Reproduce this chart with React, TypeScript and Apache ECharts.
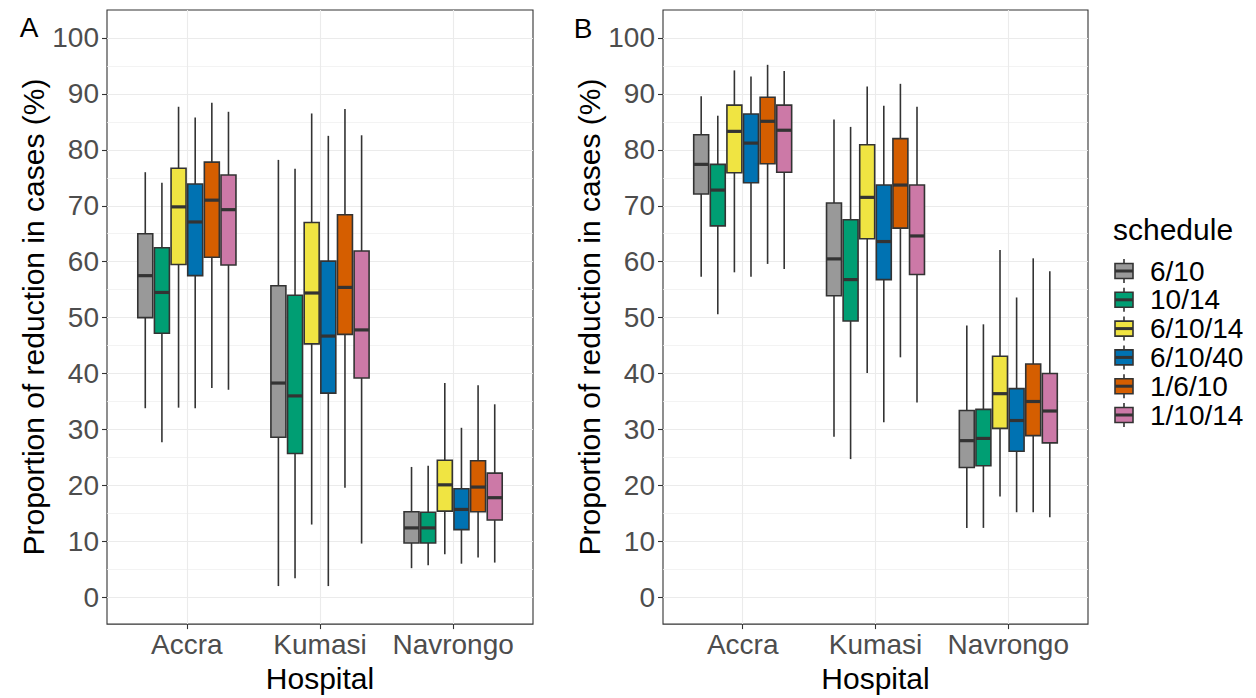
import React, { useEffect, useRef } from "react";
import * as echarts from "echarts";

// Categories
const hospitals = ["Accra", "Kumasi", "Navrongo"];
const schedules = ["6/10", "10/14", "6/10/14", "6/10/40", "1/6/10", "1/10/14"];
const colors = ["#999999", "#009E73", "#F0E442", "#0072B2", "#D55E00", "#CC79A7"];
const yTicks = [0, 10, 20, 30, 40, 50, 60, 70, 80, 90, 100];
const yMinor = [5, 15, 25, 35, 45, 55, 65, 75, 85, 95];

// Panel A: per schedule, per hospital [lowWhisker, Q1, median, Q3, highWhisker]
const a_6_10 = [[33.8, 50.0, 57.5, 65.0, 76.0], [2.0, 28.6, 38.3, 55.7, 78.2], [5.2, 9.7, 12.4, 15.3, 23.3]];
const a_10_14 = [[27.7, 47.2, 54.5, 62.5, 74.1], [3.4, 25.7, 36.0, 54.0, 76.6], [5.7, 9.7, 12.4, 15.2, 23.5]];
const a_6_10_14 = [[33.9, 59.5, 69.8, 76.7, 87.7], [13.0, 45.3, 54.4, 67.0, 86.5], [7.7, 15.4, 20.1, 24.5, 38.3]];
const a_6_10_40 = [[33.8, 57.5, 67.1, 73.9, 85.8], [2.0, 36.5, 46.7, 60.1, 82.5], [6.0, 12.1, 15.7, 19.4, 30.3]];
const a_1_6_10 = [[37.4, 60.8, 71.0, 77.8, 88.4], [19.6, 47.0, 55.4, 68.4, 87.3], [7.1, 15.3, 19.7, 24.4, 37.9]];
const a_1_10_14 = [[37.1, 59.4, 69.3, 75.5, 86.8], [9.6, 39.2, 47.8, 61.9, 82.6], [6.2, 13.8, 17.8, 22.2, 34.5]];

// Panel B
const b_6_10 = [[57.3, 72.1, 77.4, 82.7, 89.6], [28.7, 53.9, 60.5, 70.5, 85.4], [12.4, 23.2, 28.0, 33.4, 48.6]];
const b_10_14 = [[50.6, 66.4, 72.8, 77.4, 86.1], [24.7, 49.4, 56.8, 67.5, 84.1], [12.4, 23.5, 28.4, 33.6, 48.8]];
const b_6_10_14 = [[58.1, 75.9, 83.3, 88.0, 94.2], [40.1, 64.1, 71.5, 80.9, 91.3], [18.0, 30.2, 36.4, 43.1, 62.1]];
const b_6_10_40 = [[57.3, 74.1, 81.2, 86.4, 93.1], [31.3, 56.8, 63.6, 73.7, 87.9], [15.2, 26.1, 31.6, 37.3, 53.6]];
const b_1_6_10 = [[59.6, 77.5, 85.1, 89.4, 95.2], [42.9, 66.0, 73.7, 82.0, 91.8], [15.2, 28.9, 35.0, 41.7, 60.6]];
const b_1_10_14 = [[58.7, 76.0, 83.5, 88.0, 94.1], [34.8, 57.7, 64.6, 73.7, 87.7], [14.3, 27.6, 33.3, 40.0, 58.3]];

const panelA = [a_6_10, a_10_14, a_6_10_14, a_6_10_40, a_1_6_10, a_1_10_14];
const panelB = [b_6_10, b_10_14, b_6_10_14, b_6_10_40, b_1_6_10, b_1_10_14];

const FONT = "'Liberation Sans', Arial, Helvetica, sans-serif";
const DODGE = 0.75 / 6;
const BOX_W = DODGE * 0.9;
const LINE = "#333333";
const Y_MIN = -4.8;
const Y_MAX = 105;

function makeSeries(panel: number[][][], gi: number) {
  return panel.map((stats, j) => ({
    type: "custom",
    name: schedules[j],
    xAxisIndex: gi,
    yAxisIndex: gi * 2,
    z: 3,
    encode: { x: 0, y: [1, 2, 3, 4, 5] },
    data: stats.map((s, h) => [h + 1, ...s]),
    renderItem: (params: any, api: any) => {
      const xc = (api.value(0) as number) + (j - 2.5) * DODGE;
      const cx = api.coord([xc, api.value(3)])[0];
      const yLow = api.coord([xc, api.value(1)])[1];
      const yQ1 = api.coord([xc, api.value(2)])[1];
      const yMed = api.coord([xc, api.value(3)])[1];
      const yQ3 = api.coord([xc, api.value(4)])[1];
      const yHigh = api.coord([xc, api.value(5)])[1];
      const w = api.size([BOX_W, 0])[0];
      const ls = { stroke: LINE, lineWidth: 1.6 };
      return {
        type: "group",
        children: [
          { type: "line", shape: { x1: cx, y1: yHigh, x2: cx, y2: yQ3 }, style: ls },
          { type: "line", shape: { x1: cx, y1: yQ1, x2: cx, y2: yLow }, style: ls },
          {
            type: "rect",
            shape: { x: cx - w / 2, y: yQ3, width: w, height: yQ1 - yQ3 },
            style: { fill: colors[j], stroke: LINE, lineWidth: 1.6 },
          },
          { type: "line", shape: { x1: cx - w / 2, y1: yMed, x2: cx + w / 2, y2: yMed }, style: { stroke: LINE, lineWidth: 3.2 } },
        ],
      };
    },
  }));
}

function xAxisFor(gi: number) {
  return {
    type: "value",
    gridIndex: gi,
    min: 0.4,
    max: 3.6,
    position: "bottom",
    axisLine: { show: false, onZero: false },
    axisTick: { show: true, customValues: [1, 2, 3], length: 5, lineStyle: { color: LINE, width: 1.1 } },
    axisLabel: {
      customValues: [1, 2, 3],
      formatter: (v: number) => hospitals[Math.round(v) - 1],
      fontSize: 28,
      color: "#4D4D4D",
      margin: 6,
      fontFamily: FONT,
    },
    splitLine: { show: true, lineStyle: { color: "#EBEBEB", width: 1.1 } },
    name: "Hospital",
    nameLocation: "middle",
    nameGap: 35,
    nameTextStyle: { fontSize: 30, color: "#000", fontFamily: FONT },
  };
}

function yAxesFor(gi: number) {
  return [
    {
      type: "value",
      gridIndex: gi,
      min: Y_MIN,
      max: Y_MAX,
      position: "left",
      axisLine: { show: false, onZero: false },
      axisTick: { show: true, customValues: yTicks, length: 5, lineStyle: { color: LINE, width: 1.1 } },
      axisLabel: { customValues: yTicks, fontSize: 28, color: "#4D4D4D", margin: 8, fontFamily: FONT },
      splitLine: { show: true, lineStyle: { color: "#EBEBEB", width: 1.1 } },
      name: "Proportion of reduction in cases (%)",
      nameLocation: "middle",
      nameRotate: 90,
      nameGap: 59,
      nameTextStyle: { fontSize: 30, color: "#000", fontFamily: FONT },
      z: 1,
    },
    {
      type: "value",
      gridIndex: gi,
      min: Y_MIN,
      max: Y_MAX,
      position: "left",
      axisLine: { show: false, onZero: false },
      axisTick: { show: false, customValues: yMinor },
      axisLabel: { show: false, customValues: yMinor },
      splitLine: { show: true, lineStyle: { color: "#F0F0F0", width: 0.8 } },
      z: 0,
    },
  ];
}

export default function App() {
  const ref = useRef<HTMLDivElement>(null);
  useEffect(() => {
    if (!ref.current) return;
    const chart = echarts.init(ref.current, undefined, { renderer: "svg" });
    const legendTop = 271;
    const legendStep = 28.8;
    const legendGraphics: any[] = [
      { type: "text", left: 1113, top: 214, style: { text: "schedule", fontSize: 30, fill: "#000", fontFamily: FONT } },
    ];
    schedules.forEach((s, k) => {
      const cy = legendTop + k * legendStep;
      legendGraphics.push(
        { type: "line", shape: { x1: 1124, y1: cy - 12, x2: 1124, y2: cy + 12 }, style: { stroke: LINE, lineWidth: 1.6 } },
        { type: "rect", shape: { x: 1115, y: cy - 7.5, width: 18, height: 15 }, style: { fill: colors[k], stroke: LINE, lineWidth: 1.6 } },
        { type: "line", shape: { x1: 1115, y1: cy, x2: 1133, y2: cy }, style: { stroke: LINE, lineWidth: 3 } },
        { type: "text", x: 1150, y: cy, style: { text: s, fontSize: 28, fill: "#000", fontFamily: FONT, verticalAlign: "middle", align: "left" } }
      );
    });
    chart.setOption({
      animation: false,
      textStyle: { fontFamily: FONT },
      grid: [
        { left: 107, top: 10, width: 426, height: 620, show: true, borderColor: LINE, borderWidth: 1.1, backgroundColor: "#fff" },
        { left: 663, top: 10, width: 425, height: 620, show: true, borderColor: LINE, borderWidth: 1.1, backgroundColor: "#fff" },
      ],
      xAxis: [xAxisFor(0), xAxisFor(1)],
      yAxis: [...yAxesFor(0), ...yAxesFor(1)],
      series: [...makeSeries(panelA, 0), ...makeSeries(panelB, 1)],
      graphic: [
        { type: "text", x: 29, y: 27, style: { text: "A", fontSize: 28, fill: "#000", fontFamily: FONT, align: "center", verticalAlign: "middle" } },
        { type: "text", x: 583, y: 28, style: { text: "B", fontSize: 28, fill: "#000", fontFamily: FONT, align: "center", verticalAlign: "middle" } },
        ...legendGraphics,
      ],
    });
    return () => chart.dispose();
  }, []);
  return <div ref={ref} style={{ position: "absolute", left: 0, top: 0, width: 1256, height: 698 }} />;
}
